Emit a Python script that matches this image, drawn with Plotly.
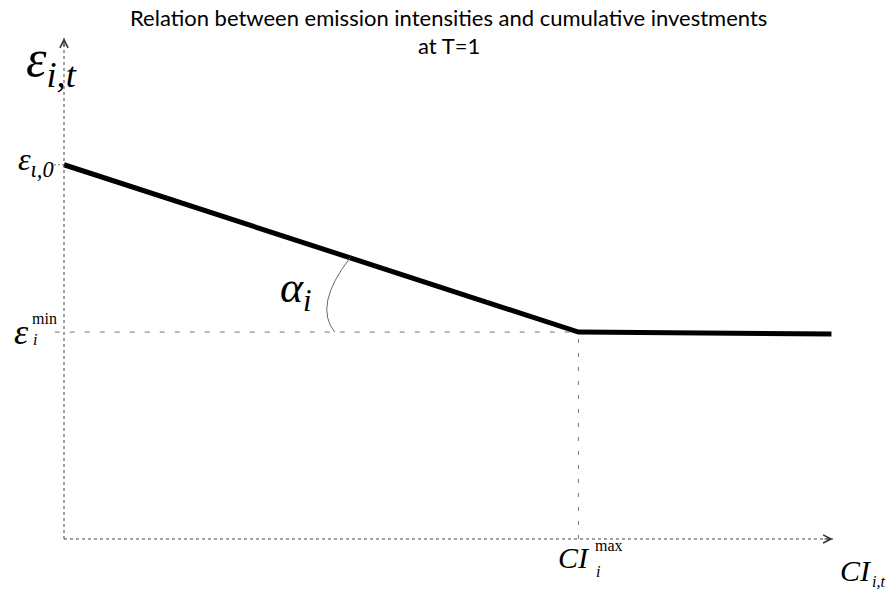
import plotly.graph_objects as go

# ---- data ----
ci_values = [0.0, 66.9, 99.8]          # cumulative investments: start, CI_max, end
eps_values = [74.7, 41.3, 40.9]        # emission intensity: eps_0, eps_min, flat part
ci_max = ci_values[1]
eps0 = eps_values[0]
eps_min = eps_values[1]
x_axis_end = 100.0
y_axis_end = 100.0

title_lines = ["Relation between emission intensities and cumulative investments", "at T=1"]

SERIF = "Liberation Serif"

fig = go.Figure()

# main piecewise line
fig.add_trace(go.Scatter(x=ci_values, y=eps_values, mode="lines",
                         line=dict(color="black", width=5), hoverinfo="skip",
                         showlegend=False))

shapes = []
# axes (dotted)
shapes.append(dict(type="line", xref="x", yref="y", x0=0, x1=x_axis_end, y0=0, y1=0,
                   line=dict(color="#444", width=1, dash="dot")))
shapes.append(dict(type="line", xref="x", yref="y", x0=0, x1=0, y0=0, y1=y_axis_end,
                   line=dict(color="#444", width=1, dash="dot")))
# guide lines
shapes.append(dict(type="line", xref="x", yref="y", x0=-1.2, x1=ci_max, y0=eps_min, y1=eps_min,
                   line=dict(color="#777", width=1, dash="5px,10px")))
shapes.append(dict(type="line", xref="x", yref="y", x0=ci_max, x1=ci_max, y0=0, y1=eps_min,
                   line=dict(color="#777", width=1, dash="4px,10px")))
shapes.append(dict(type="line", xref="x", yref="y", x0=-1.3, x1=0, y0=eps0, y1=eps0,
                   line=dict(color="#777", width=1, dash="2px,2px")))
# angle arc alpha_i
slope = (eps_min - eps0) / ci_max
ax0 = ci_max - 29.7
ay0 = eps0 + slope * ax0
ax2 = ci_max - 31.7
cx, cy = ci_max - 34.5, eps_min + 5.3
shapes.append(dict(type="path", xref="x", yref="y",
                   path=f"M {ax0},{ay0} Q {cx},{cy} {ax2},{eps_min}",
                   line=dict(color="#666", width=1)))

fig.update_layout(shapes=shapes)

# arrow heads
fig.add_annotation(x=x_axis_end, y=0, xref="x", yref="y", ax=-10, ay=0, text="",
                   showarrow=True, arrowhead=5, arrowsize=1.6, arrowwidth=1, arrowcolor="#333")
fig.add_annotation(x=0, y=y_axis_end, xref="x", yref="y", ax=0, ay=10, text="",
                   showarrow=True, arrowhead=5, arrowsize=1.6, arrowwidth=1, arrowcolor="#333")


def label(text, x, y, size, dx, dy, xanchor="center"):
    fig.add_annotation(x=x, y=y, xref="x", yref="y", text=text, showarrow=False,
                       font=dict(family=SERIF, size=size, color="black"),
                       xshift=dx, yshift=dy, xanchor=xanchor, yanchor="middle")


# y axis label
label("<i>ε<sub>i,t</sub></i>", 0, y_axis_end, 52, 15, -24, xanchor="right")
# eps_{i,0}
label("<i>ε<sub>ι,0</sub></i>", 0, eps0, 32, -8, 3, xanchor="right")
# eps_i^min
label("<i>ε</i>", 0, eps_min, 36, -43, 0)
label("min", 0, eps_min, 16, -20, 14)
label("<i>i</i>", 0, eps_min, 16, -29, -7)
# alpha_i
label("<i>α<sub>i</sub></i>", ci_max, eps_min, 44, -282, 42)
# CI_i^max
label("<i>CI</i>", ci_max, 0, 30, -4, -19)
label("max", ci_max, 0, 16, 31, -7)
label("<i>i</i>", ci_max, 0, 16, 20, -33)
# CI_{i,t}
label("<i>CI</i>", x_axis_end, 0, 30, 23, -32)
label("<i>i,t</i>", x_axis_end, 0, 16, 45, -43)

# title (two lines)
fig.add_annotation(x=0.503, y=1.0388, xref="paper", yref="paper", text=title_lines[0],
                   showarrow=False, xanchor="center", yanchor="middle",
                   font=dict(family="Lato", size=22, color="black"))
fig.add_annotation(x=0.503, y=0.9855, xref="paper", yref="paper", text=title_lines[1],
                   showarrow=False, xanchor="center", yanchor="middle",
                   font=dict(family="Lato", size=22, color="black"))

fig.update_layout(
    width=893, height=590,
    margin=dict(l=52, r=52, t=38, b=36, autoexpand=False),
    paper_bgcolor="white", plot_bgcolor="white",
    showlegend=False,
    xaxis=dict(range=[-1.56, 101.04], visible=False, fixedrange=True),
    yaxis=dict(range=[-3, 100], visible=False, fixedrange=True),
)

fig.write_html("out.html", config={"displayModeBar": False},
               post_script="document.body.style.margin='0';")
